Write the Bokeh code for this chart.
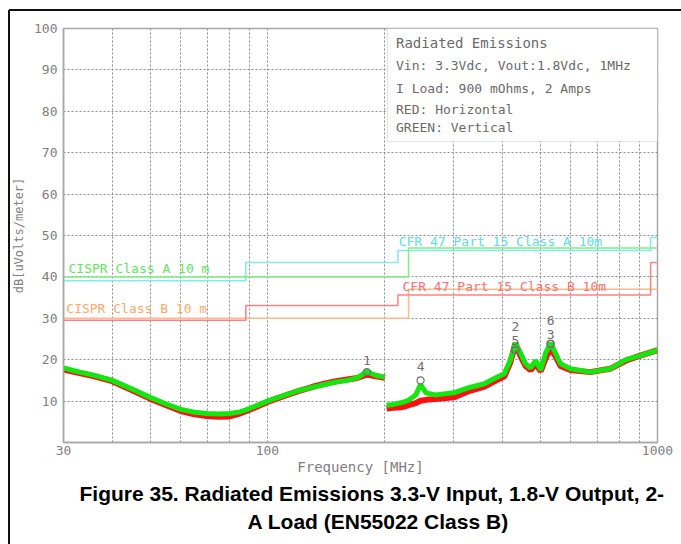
from bokeh.plotting import figure
from bokeh.models import FixedTicker, BoxAnnotation, Label, ColumnDataSource, Range1d, Title
from bokeh.embed import file_html
from bokeh.resources import INLINE
from bokeh.core.properties import value

# ---------------- data ----------------
# measured traces, segment 1 (30-200 MHz) and segment 2 (200-1000 MHz)
seg1_freq = [30, 33, 36, 40, 45, 50, 55, 60, 65, 70, 75, 80, 85, 90, 100, 110, 120,
             130, 140, 150, 160, 170, 175, 180, 185, 190, 200]
seg1_vertical = [18.0, 17.0, 16.2, 15.0, 12.9, 10.9, 9.3, 8.0, 7.3, 7.0, 6.9, 7.0, 7.4,
                 8.2, 10.0, 11.3, 12.5, 13.3, 14.0, 14.6, 15.0, 15.6, 16.4, 17.2, 16.6,
                 16.2, 15.8]
seg1_horizontal = [17.6, 16.8, 16.0, 14.8, 12.6, 10.6, 9.0, 7.6, 6.8, 6.4, 6.2, 6.3, 7.0,
                   7.9, 9.8, 11.2, 12.4, 13.4, 14.2, 14.8, 15.2, 15.6, 16.0, 16.6, 16.2,
                   16.0, 15.6]
seg2_freq = [202, 210, 220, 230, 240, 247, 255, 270, 300, 330, 360, 386, 405, 420, 432,
             445, 459, 473, 487, 502, 517, 532, 548, 564, 598, 672, 756, 831, 903, 1000]
seg2_vertical = [9.0, 9.2, 9.6, 10.2, 11.5, 14.0, 12.0, 11.5, 12.0, 13.3, 14.2, 15.7,
                 16.6, 20.0, 24.0, 21.7, 19.0, 18.0, 19.8, 17.5, 21.7, 24.0, 21.5, 19.0,
                 17.8, 17.0, 17.8, 20.0, 21.0, 22.3]
seg2_horizontal = [8.2, 8.4, 8.5, 9.0, 9.5, 10.1, 10.3, 10.5, 10.9, 12.5, 13.5, 15.0,
                   16.0, 19.5, 24.0, 21.0, 18.5, 17.5, 19.0, 17.2, 20.5, 22.7, 20.8, 18.5,
                   17.5, 17.0, 17.8, 19.8, 21.0, 22.3]

# limit lines (step breakpoints)
cfr_a_freq = [30, 88, 216, 960, 1000]
cfr_a_level = [39.1, 43.5, 46.4, 49.5, 49.5]
cfr_b_freq = [30, 88, 216, 960, 1000]
cfr_b_level = [29.5, 33.1, 35.6, 43.5, 43.5]
cispr_a_freq = [30, 230, 1000]
cispr_a_level = [40, 47, 47]
cispr_b_freq = [30, 230, 1000]
cispr_b_level = [30, 37, 37]

limit_names = ["CISPR Class A 10 m", "CISPR Class B 10 m",
               "CFR 47 Part 15  Class A 10m", "CFR 47 Part 15  Class B 10m"]

# peak markers
marker_ids = ["1", "2", "3", "4", "5", "6"]
marker_freq = [180, 432, 532, 247, 432, 532]
marker_level = [17.0, 22.3, 23.8, 15.0, 22.3, 23.8]

legend_lines = ["Radiated Emissions", "Vin: 3.3Vdc, Vout:1.8Vdc, 1MHz",
                "I Load: 900 mOhms, 2 Amps", "RED: Horizontal", "GREEN: Vertical"]

y_ticks = [10, 20, 30, 40, 50, 60, 70, 80, 90, 100]
x_ticks = [30, 100, 1000]
x_grid = [40, 50, 60, 70, 80, 90, 100, 200, 300, 400, 500, 600, 700, 800, 900]

caption = ["Figure 35. Radiated Emissions 3.3-V Input, 1.8-V Output, 2-",
           "A Load (EN55022 Class B)"]

# ---------------- styling ----------------
MONO = "DejaVu Sans Mono"
GRAY = "#808080"
AX = "#a8a8a8"

page_lines = {
    "background-image": "linear-gradient(#111111, #111111), linear-gradient(#111111, #111111)",
    "background-size": "672px 2px, 2px 534px",
    "background-position": "9px 9px, 8px 10px",
    "background-repeat": "no-repeat",
}

p = figure(width=681, height=544, x_axis_type="log",
           x_range=Range1d(30, 1000), y_range=Range1d(0, 100),
           output_backend="svg", toolbar_location=None,
           min_border_left=63, min_border_right=24, min_border_top=28,
           min_border_bottom=102, styles=page_lines)
p.background_fill_color = "white"
p.border_fill_color = None
p.outline_line_color = AX
p.outline_line_width = 1.5

p.xaxis.ticker = FixedTicker(ticks=x_ticks)
p.yaxis.ticker = FixedTicker(ticks=y_ticks)
p.xaxis.major_label_overrides = {30: "30", 100: "100", 1000: "1000"}
for ax in (p.xaxis[0], p.yaxis[0]):
    ax.axis_line_color = AX
    ax.axis_line_width = 1.5
    ax.major_tick_line_color = None
    ax.minor_tick_line_color = None
    ax.major_label_text_font = MONO
    ax.major_label_text_font_size = "13px"
    ax.major_label_text_color = GRAY
    ax.axis_label_text_font = MONO
    ax.axis_label_text_font_style = "normal"
    ax.axis_label_text_color = GRAY
p.xaxis.major_label_standoff = -3
p.yaxis.major_label_standoff = 0
p.xaxis.axis_label = "Frequency [MHz]"
p.xaxis.axis_label_text_font_size = "14px"
p.xaxis.axis_label_standoff = 1
p.yaxis.axis_label = "dB[uVolts/meter]"
p.yaxis.axis_label_text_font_size = "12px"
p.yaxis.axis_label_standoff = 5

p.xgrid.ticker = FixedTicker(ticks=x_grid)
p.ygrid.ticker = FixedTicker(ticks=[10, 20, 30, 40, 50, 60, 70, 80, 90])
for g in (p.xgrid[0], p.ygrid[0]):
    g.grid_line_color = "#8c8c8c"
    g.grid_line_dash = "2 2"
    g.grid_line_width = 1

# limit lines
p.step(cfr_a_freq, cfr_a_level, mode="after", line_color="#80ecec", line_width=1.5)
p.step(cispr_a_freq, cispr_a_level, mode="after", line_color="#80f080", line_width=1.5)
p.step(cispr_b_freq, cispr_b_level, mode="after", line_color="#ffb888", line_width=1.5)
p.step(cfr_b_freq, cfr_b_level, mode="after", line_color="#ff8080", line_width=1.5)

lab_src = ColumnDataSource(dict(x=[30.9, 30.5, 217, 222], y=[42.0, 32.4, 48.5, 37.7],
                                t=limit_names,
                                c=["#60e860", "#ffa868", "#60e0e0", "#ff7070"]))
p.text(x="x", y="y", text="t", source=lab_src, text_color="c",
       text_font=value(MONO), text_font_size="13px", text_baseline="middle",
       text_align="left")

# traces: red = horizontal, green = vertical
p.line(seg1_freq, seg1_horizontal, line_color="#ff1010", line_width=6)
p.line(seg2_freq, seg2_horizontal, line_color="#ff1010", line_width=6)
p.line(seg1_freq, seg1_vertical, line_color="#10e810", line_width=5)
p.line(seg2_freq, seg2_vertical, line_color="#10e810", line_width=5)

# peak markers
mk_src = ColumnDataSource(dict(x=marker_freq, y=marker_level, t=marker_ids,
                               off=[-12, -24, -9, -14, -10, -23]))
p.scatter(x="x", y="y", source=mk_src, marker="circle", size=7,
          fill_color=None, line_color="#707070", line_width=1.2)
p.text(x="x", y="y", text="t", source=mk_src, y_offset="off",
       text_font=value(MONO), text_font_size="13px", text_color="#707070",
       text_align="center", text_baseline="middle")

# legend box
p.add_layout(BoxAnnotation(left=203, right=1000, bottom=72.7, top=100,
                           fill_color="white", fill_alpha=1.0,
                           line_color=AX, line_width=1.2))
leg_y = [96.4, 91.1, 85.5, 80.4, 76.1]
leg_size = ["14px", "13px", "13px", "13px", "13px"]
for txt, yy, fs in zip(legend_lines, leg_y, leg_size):
    p.add_layout(Label(x=213.6, y=yy, text=txt, text_font=MONO, text_font_size=fs,
                       text_color="#6a6a6a", text_baseline="middle"))

# caption (two lines below the x axis)
for txt, off, so in zip(caption, [16, 184], [5, 0]):
    p.add_layout(Title(text=txt, align="left", offset=off, standoff=so,
                       text_font="Liberation Sans", text_font_style="bold",
                       text_font_size="21px", text_color="black"), "below")

open("out.html", "w").write(file_html(p, INLINE))
